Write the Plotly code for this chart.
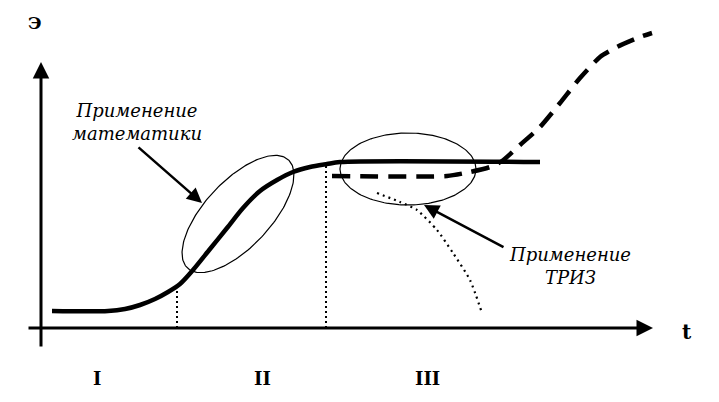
import numpy as np
import plotly.graph_objects as go

# S-curve of the system (t, Э), origin at axes crossing
s_t = [11, 67, 84, 99, 114, 127, 139, 152, 169, 186, 202, 219, 236, 252, 269, 286, 299, 499]
s_e = [17, 17, 19, 23, 29, 36, 44, 58, 79, 100, 120, 137, 148, 156, 161, 164, 166, 166]

# new S-curve after TRIZ (dashed)
new_t = [291, 406, 429, 449, 461, 479, 499, 519, 539, 559, 576, 599, 611]
new_e = [152, 152, 156, 161, 167, 183, 201, 225, 250, 271, 281, 291, 295]

# decline (dotted)
dec_t = [336, 359, 376, 396, 412, 429, 441]
dec_e = [135, 126, 118, 98, 75, 48, 15]

# stage borders
border_t = [136, 285]
border_e = [38, 163]

stage_labels = ['I', 'II', 'III']
stage_t = [56, 221, 386]

fig = go.Figure()

fig.add_trace(go.Scatter(x=s_t, y=s_e, mode='lines',
                         line=dict(color='black', width=4.5, shape='spline', smoothing=0.8),
                         hoverinfo='skip'))
fig.add_trace(go.Scatter(x=new_t, y=new_e, mode='lines',
                         line=dict(color='black', width=4.5, dash='18px,10px', shape='spline', smoothing=0.6),
                         hoverinfo='skip'))
fig.add_trace(go.Scatter(x=dec_t, y=dec_e, mode='lines',
                         line=dict(color='black', width=2.2, dash='2px,4px', shape='spline', smoothing=0.6),
                         hoverinfo='skip'))
for bt, be in zip(border_t, border_e):
    fig.add_trace(go.Scatter(x=[bt, bt], y=[0, be], mode='lines',
                             line=dict(color='black', width=2, dash='2px,3px'), hoverinfo='skip'))

# highlight ellipses
def ellipse(cx, cy, a, b, ang):
    th = np.linspace(0, 2 * np.pi, 200)
    r = np.radians(ang)
    x = cx + a * np.cos(th) * np.cos(r) - b * np.sin(th) * np.sin(r)
    y = cy + a * np.cos(th) * np.sin(r) + b * np.sin(th) * np.cos(r)
    return x, y

for cx, cy, a, b, ang in [(197, 114, 74, 33, 47), (367, 159, 68, 36, 0)]:
    ex, ey = ellipse(cx, cy, a, b, ang)
    fig.add_trace(go.Scatter(x=ex, y=ey, mode='lines',
                             line=dict(color='black', width=1.2), hoverinfo='skip'))

# axes with arrows
fig.add_annotation(x=0, y=266, ax=0, ay=-20, xref='x', yref='y', axref='x', ayref='y',
                   showarrow=True, arrowhead=2, arrowsize=1.1, arrowwidth=3, arrowcolor='black', text='')
fig.add_annotation(x=612, y=0, ax=-14, ay=0, xref='x', yref='y', axref='x', ayref='y',
                   showarrow=True, arrowhead=2, arrowsize=1.1, arrowwidth=3, arrowcolor='black', text='')

# pointer arrows
fig.add_annotation(x=161, y=125, ax=96, ay=182, xref='x', yref='y', axref='x', ayref='y',
                   showarrow=True, arrowhead=2, arrowsize=1.2, arrowwidth=2.5, arrowcolor='black', text='')
fig.add_annotation(x=383, y=123, ax=464, ay=80, xref='x', yref='y', axref='x', ayref='y',
                   showarrow=True, arrowhead=2, arrowsize=1.2, arrowwidth=2.5, arrowcolor='black', text='')

serif = 'DejaVu Serif'
italic = dict(family=serif, size=18, color='black')
fig.add_annotation(x=96, y=206, text='<i>Применение<br>математики</i>', showarrow=False,
                   font=italic, align='center')
fig.add_annotation(x=529, y=62, text='<i>Применение<br>ТРИЗ</i>', showarrow=False,
                   font=italic, align='center')

bold = dict(family=serif, size=18, color='black')
for lab, st in zip(stage_labels, stage_t):
    fig.add_annotation(x=st, y=-50, text='<b>' + lab + '</b>', showarrow=False, font=bold)
fig.add_annotation(x=-6, y=305, text='<b>Э</b>', showarrow=False, font=dict(family=serif, size=17))
fig.add_annotation(x=646, y=-4, text='<b>t</b>', showarrow=False, font=dict(family=serif, size=20))

# page body adds an 8px margin, so the figure is 8px smaller and ranges start 8px later
fig.update_layout(
    width=711, height=394,
    margin=dict(l=0, r=0, t=0, b=0),
    plot_bgcolor='white', paper_bgcolor='white',
    showlegend=False,
    font=dict(family=serif, color='black'),
    xaxis=dict(range=[-33, 678], visible=False, fixedrange=True),
    yaxis=dict(range=[-74, 320], visible=False, fixedrange=True),
)

fig.write_html("out.html")
